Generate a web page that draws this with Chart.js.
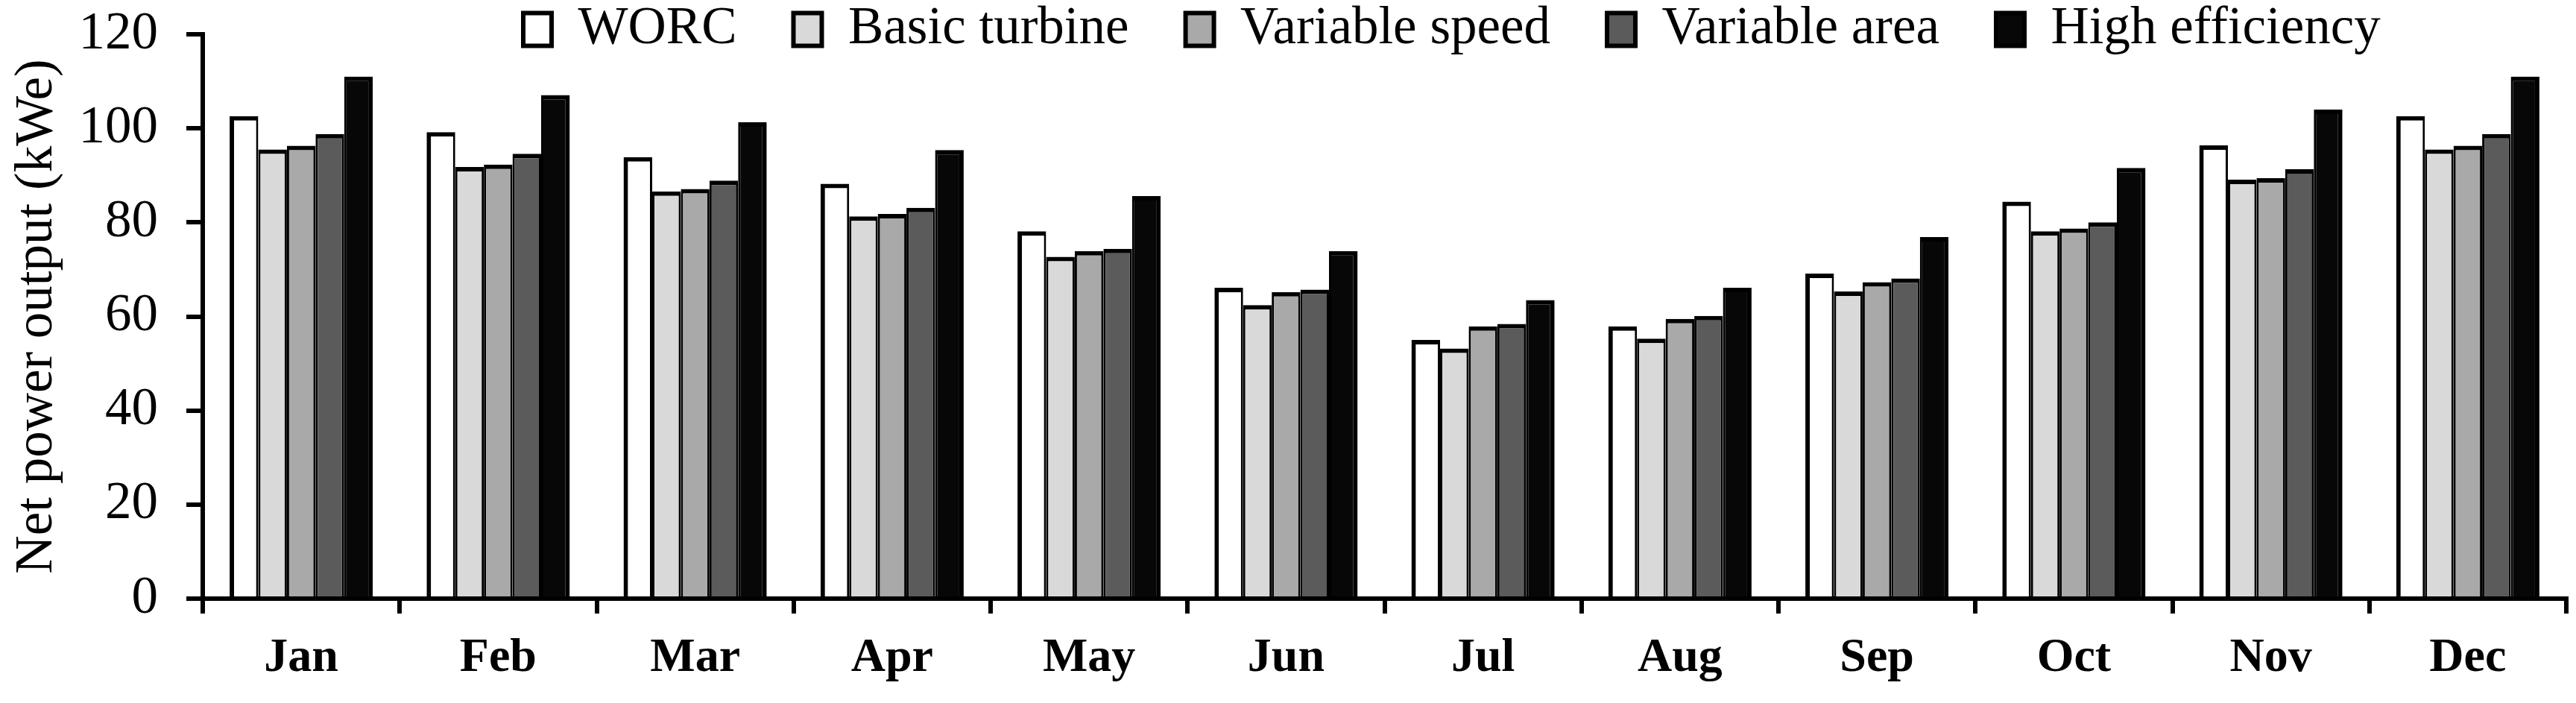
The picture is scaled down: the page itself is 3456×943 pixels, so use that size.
<!DOCTYPE html>
<html>
<head>
<meta charset="utf-8">
<script src="https://cdn.jsdelivr.net/npm/chart.js@4.4.1/dist/chart.umd.min.js"></script>
<style>
html,body{margin:0;padding:0;background:#fff;overflow:hidden;}
canvas{display:block;}
</style>
</head>
<body>
<canvas id="c" width="3456" height="943"></canvas>
<script>
const months = ['Jan','Feb','Mar','Apr','May','Jun','Jul','Aug','Sep','Oct','Nov','Dec'];
const seriesNames = ['WORC','Basic turbine','Variable speed','Variable area','High efficiency'];
const worc      = [102.6, 99.2, 93.9, 88.2, 78.1, 66.1, 55.0, 57.9, 69.1, 84.4, 96.4, 102.6];
const basic     = [95.5, 91.8, 86.6, 81.3, 72.7, 62.4, 53.2, 55.3, 65.3, 78.1, 89.1, 95.5];
const varSpeed  = [96.3, 92.3, 87.1, 81.8, 73.9, 65.2, 57.9, 59.5, 67.3, 78.7, 89.4, 96.3];
const varArea   = [98.8, 94.6, 88.9, 83.1, 74.4, 65.7, 58.4, 60.1, 68.1, 80.0, 91.3, 98.8];
const highEff   = [111.0, 107.1, 101.3, 95.4, 85.6, 73.9, 63.5, 66.1, 76.9, 91.6, 104.0, 111.0];
const yTicks = [0, 20, 40, 60, 80, 100, 120];

const fills = ['#ffffff', '#d9d9d9', '#a9a9a9', '#5b5b5b', '#070707'];
const allData = [worc, basic, varSpeed, varArea, highEff];
const FONT = "'Liberation Serif', 'Times New Roman', serif";

const datasets = allData.map((d, i) => ({
  label: seriesNames[i],
  data: d,
  backgroundColor: fills[i],
  borderColor: '#000',
  borderWidth: {
    top: 6,
    left: i === 0 ? 6 : 3,
    right: i === 4 ? 6 : 3,
    bottom: 0
  },
  borderSkipped: 'start',
  categoryPercentage: 0.727,
  barPercentage: 1.0
}));

const legendPlace = {
  id: 'legendPlace',
  afterUpdate(chart) {
    const l = chart.legend;
    if (!l) return;
    const pad = l.options.labels.padding;
    l.left = 702 - pad; l.right = 3456;
    l.top = 4 - pad; l.bottom = 200;
    l.adjustHitBoxes();
  }
};

new Chart(document.getElementById('c'), {
  type: 'bar',
  data: { labels: months, datasets },
  options: {
    responsive: false,
    devicePixelRatio: 1,
    animation: false,
    layout: { padding: { left: 0, right: 13, top: 0, bottom: 0 } },
    plugins: {
      tooltip: { enabled: false },
      legend: {
        display: true,
        position: 'top',
        align: 'start',
        maxHeight: 46,
        labels: {
          color: '#000',
          font: { family: FONT, size: 71 },
          boxWidth: 38,
          boxHeight: 44,
          padding: 76,
          generateLabels(chart) {
            const items = Chart.defaults.plugins.legend.labels.generateLabels(chart);
            items.forEach(it => { it.lineWidth = 6; it.strokeStyle = '#000'; });
            return items;
          }
        }
      }
    },
    scales: {
      x: {
        offset: true,
        grid: {
          display: true,
          offset: true,
          drawOnChartArea: false,
          drawTicks: true,
          tickLength: 20,
          lineWidth: 6,
          color: '#000'
        },
        border: { display: true, color: '#000', width: 6 },
        ticks: {
          color: '#000',
          font: { family: FONT, size: 64, weight: 'bold' },
          padding: 22,
          maxRotation: 0,
          autoSkip: false
        },
        afterFit(scale) { scale.height = 140; }
      },
      y: {
        min: 0,
        max: 120,
        afterBuildTicks(scale) { scale.ticks = yTicks.map(v => ({ value: v })); },
        grid: {
          display: true,
          drawOnChartArea: false,
          drawTicks: true,
          tickLength: 22,
          lineWidth: 6,
          color: '#000'
        },
        border: { display: true, color: '#000', width: 6 },
        ticks: {
          color: '#000',
          font: { family: FONT, size: 71, lineHeight: 0.1 },
          padding: 38
        },
        title: {
          display: true,
          text: 'Net power output (kWe)',
          color: '#000',
          font: { family: FONT, size: 71 },
          padding: { top: 8, bottom: 0 }
        },
        afterFit(scale) { scale.width = 272; }
      }
    }
  },
  plugins: [legendPlace]
});
</script>
</body>
</html>
